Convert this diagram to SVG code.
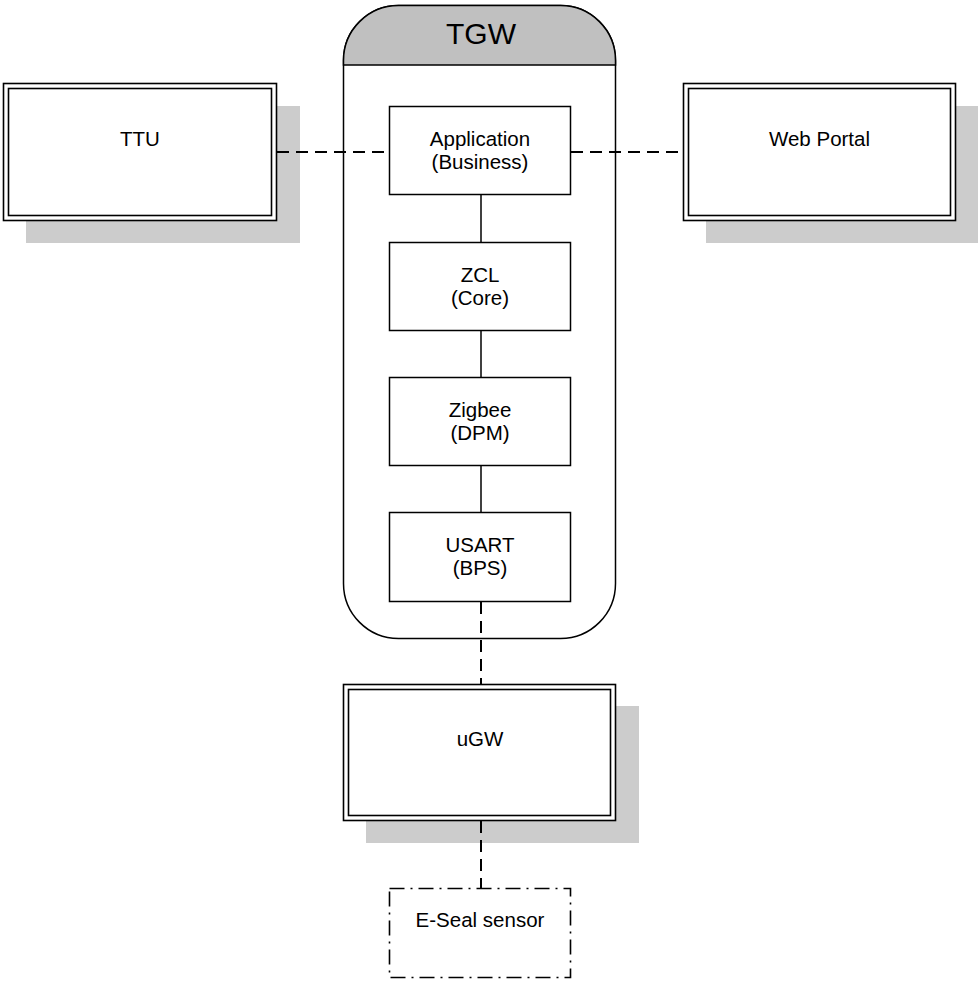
<svg xmlns="http://www.w3.org/2000/svg" width="978" height="981" viewBox="0 0 978 981">
<style>
text{font-family:"Liberation Sans",Arial,sans-serif;fill:#000;text-anchor:middle}
.t{font-size:20.5px}
.h{font-size:30px}
.shadow{fill:#cccccc;stroke:none}
.dbl{fill:#fff;stroke:#000;stroke-width:1.6}
.box{fill:#fff;stroke:#000;stroke-width:1.5}
.solid{stroke:#000;stroke-width:1.5;fill:none}
.dash{stroke:#000;stroke-width:2;fill:none;stroke-dasharray:12 7}
.dashdot{fill:#fff;stroke:#000;stroke-width:1.6;stroke-dasharray:15 6 2 6}
</style>
<rect width="978" height="981" fill="#fff"/>
<g id="TTU">
<rect class="shadow" x="26" y="106" width="274" height="137"/>
<rect class="dbl" x="3.5" y="83.5" width="273" height="137"/>
<rect class="dbl" x="8.5" y="88.5" width="263" height="127"/>
<text class="t" x="140" y="146">TTU</text>
</g>
<g id="WebPortal">
<rect class="shadow" x="706" y="106" width="272" height="137"/>
<rect class="dbl" x="683.5" y="83.5" width="272" height="137"/>
<rect class="dbl" x="688.5" y="88.5" width="262" height="127"/>
<text class="t" x="819.5" y="146">Web Portal</text>
</g>
<g id="uGW">
<rect class="shadow" x="366" y="706" width="273" height="137"/>
<rect class="dbl" x="343.5" y="684.5" width="272" height="136"/>
<rect class="dbl" x="348.5" y="689.5" width="262" height="126"/>
<text class="t" x="480" y="746">uGW</text>
</g>
<g id="TGW">
<rect x="343.5" y="5.5" width="272" height="633" rx="55" ry="55" fill="#fff" stroke="#000" stroke-width="1.5"/>
<path d="M343.5 65 L343.5 60.5 A55 55 0 0 1 398.5 5.5 L560.5 5.5 A55 55 0 0 1 615.5 60.5 L615.5 65 Z" fill="#c0c0c0" stroke="#000" stroke-width="1.5"/>
<text class="h" x="481" y="44">TGW</text>
</g>
<g id="Application">
<rect class="box" x="389.5" y="106.5" width="181" height="88"/>
<text class="t" x="480" y="146">Application</text>
<text class="t" x="480" y="169">(Business)</text>
</g>
<g id="ZCL">
<rect class="box" x="389.5" y="242.5" width="181" height="88"/>
<text class="t" x="480" y="282">ZCL</text>
<text class="t" x="480" y="305">(Core)</text>
</g>
<g id="Zigbee">
<rect class="box" x="389.5" y="377.5" width="181" height="88"/>
<text class="t" x="480" y="417">Zigbee</text>
<text class="t" x="480" y="440">(DPM)</text>
</g>
<g id="USART">
<rect class="box" x="389.5" y="512.5" width="181" height="89"/>
<text class="t" x="480" y="552">USART</text>
<text class="t" x="480" y="575">(BPS)</text>
</g>
<g id="ESeal">
<rect class="dashdot" x="389.5" y="888.5" width="181" height="89"/>
<text class="t" x="480" y="927">E-Seal sensor</text>
</g>
<g id="connectors">
<line class="dash" x1="277" y1="152" x2="389" y2="152"/>
<line class="dash" x1="571" y1="152" x2="683" y2="152"/>
<line class="solid" x1="481" y1="195" x2="481" y2="242"/>
<line class="solid" x1="481" y1="331" x2="481" y2="377"/>
<line class="solid" x1="481" y1="466" x2="481" y2="512"/>
<line class="dash" x1="481" y1="602" x2="481" y2="684"/>
<line class="dash" x1="481" y1="821" x2="481" y2="888"/>
</g>
</svg>
